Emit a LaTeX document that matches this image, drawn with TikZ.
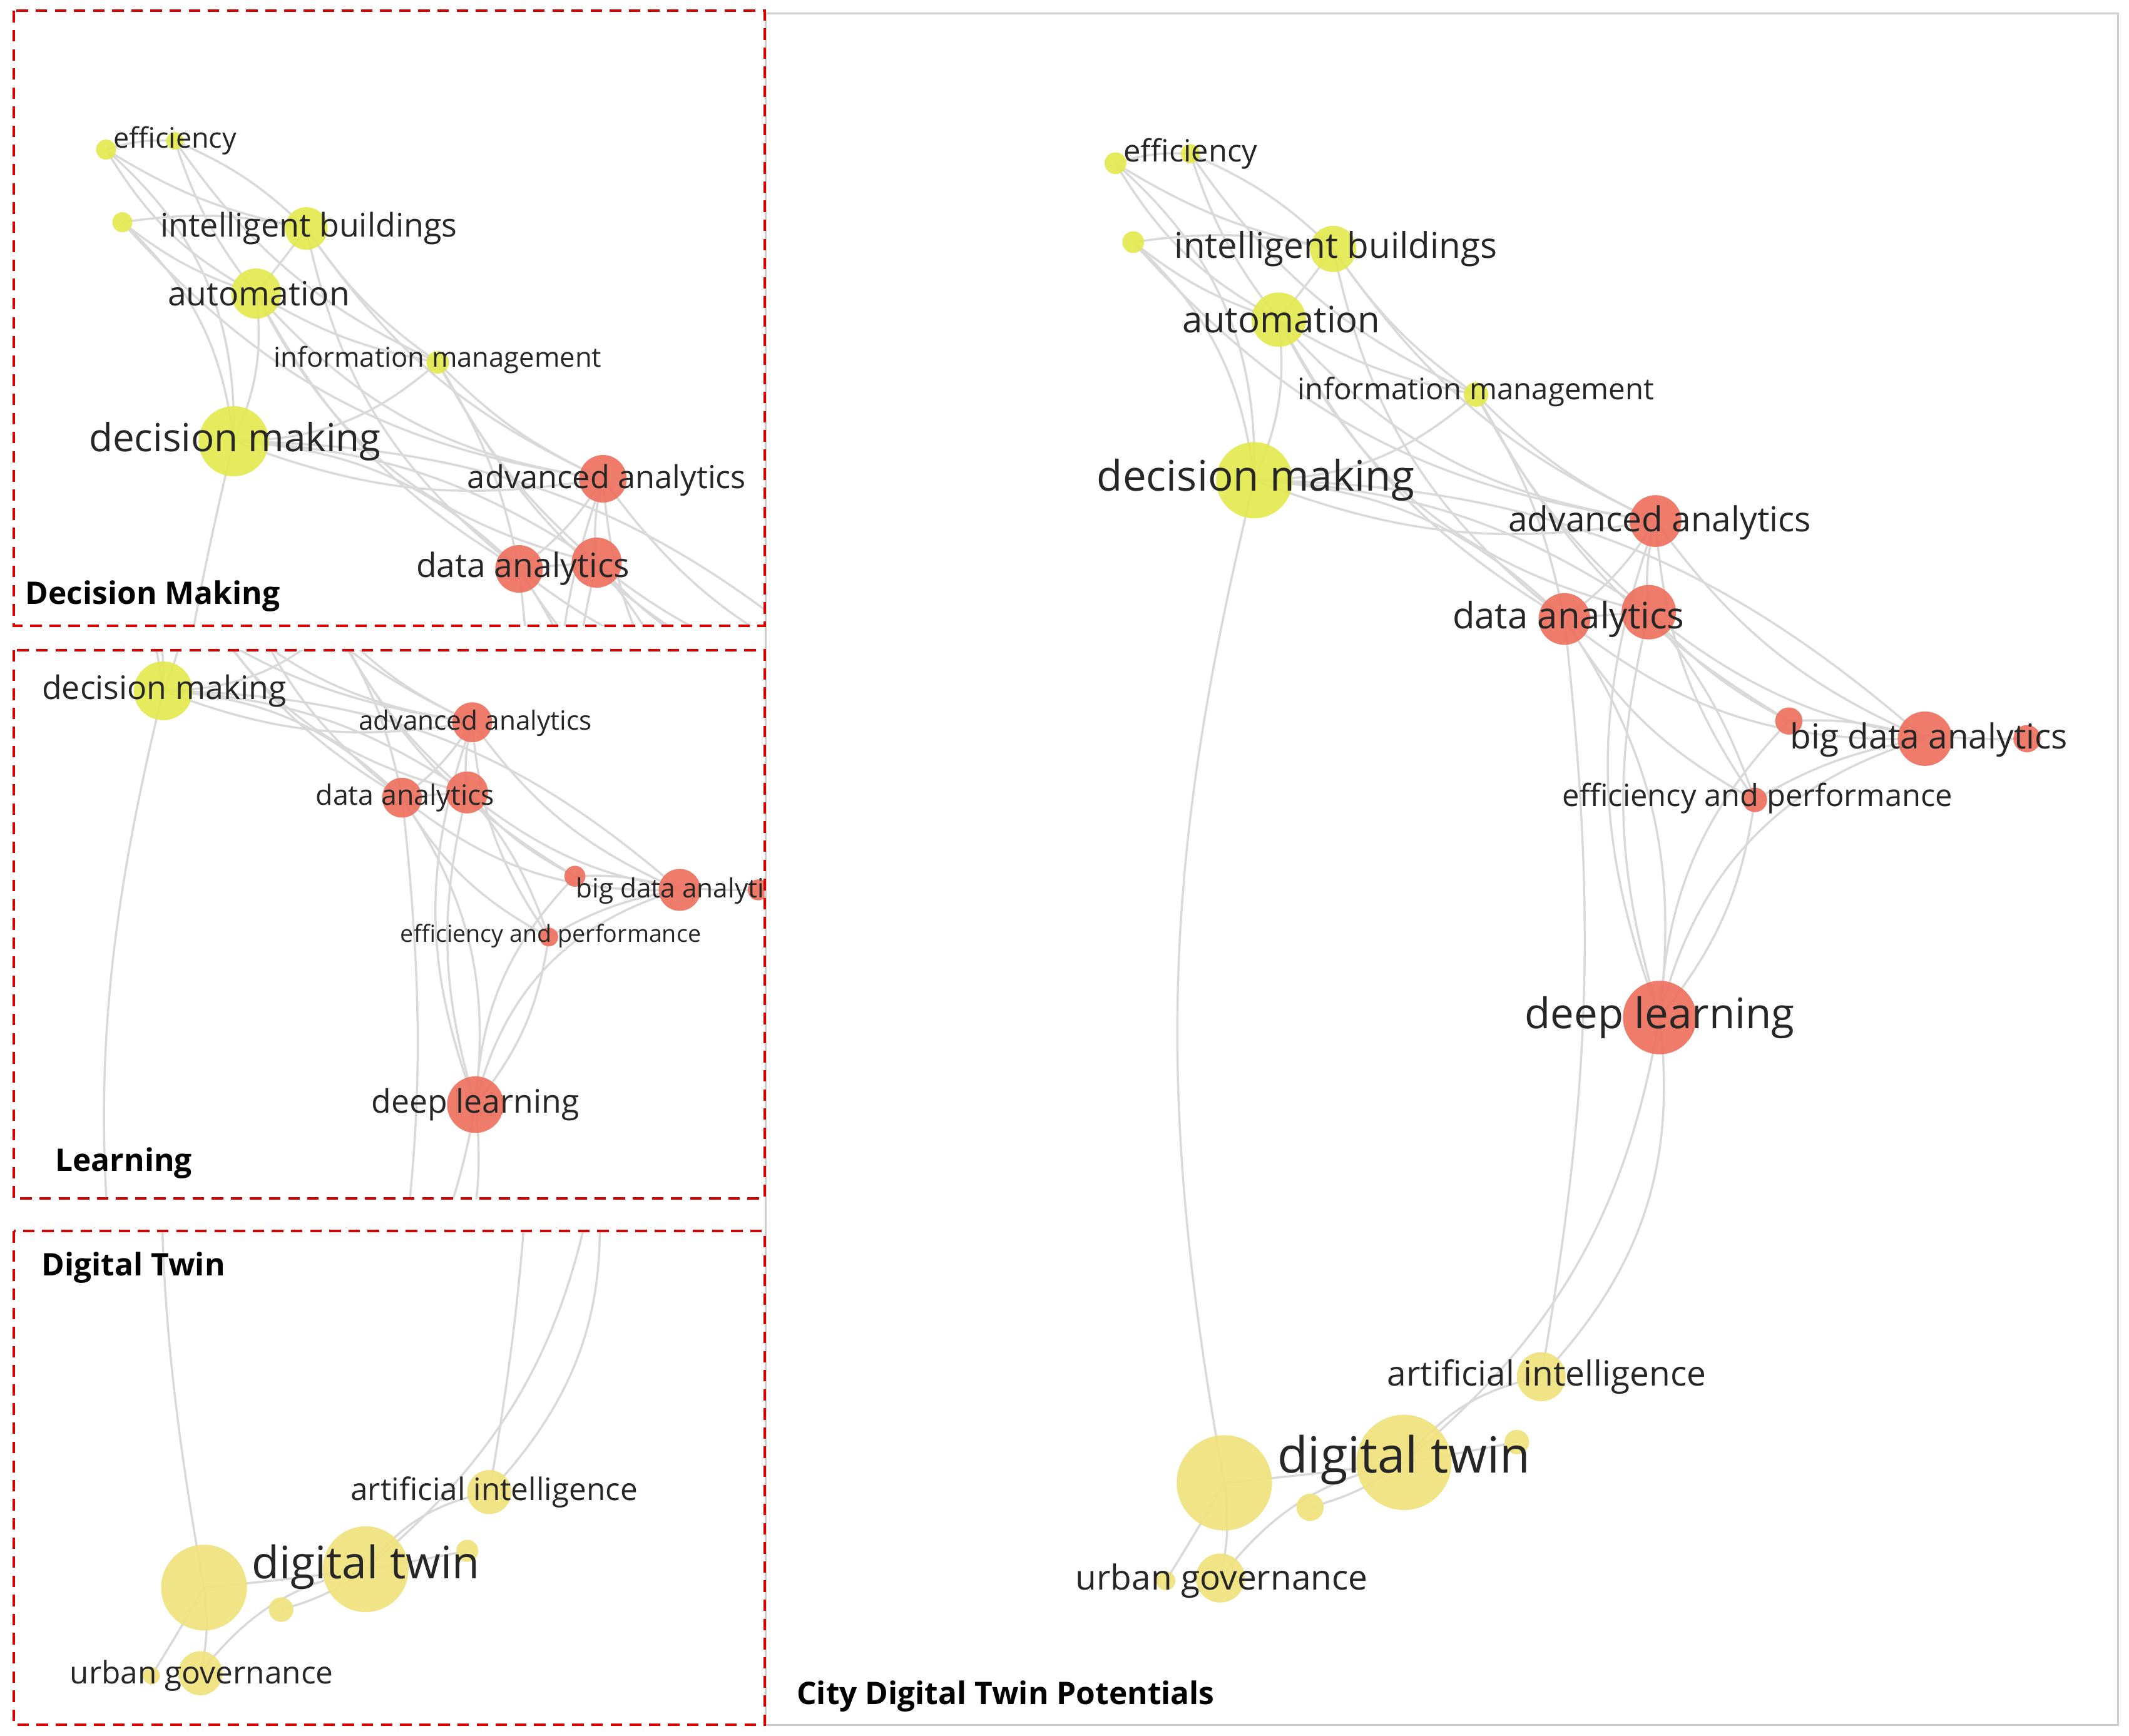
\documentclass[tikz,border=0pt]{standalone}
\usepackage{fontspec}
\setmainfont{Open Sans}
\definecolor{ky}{HTML}{E4E84C}
\definecolor{kt}{HTML}{F0E27A}
\definecolor{kr}{HTML}{EE6E5C}
\tikzset{
 edge/.style={draw=black!15,line width=0.45pt},
 nd/.style={circle,inner sep=0pt,minimum size=#1*0.02cm,fill opacity=0.9},
 ny/.style={nd=#1,fill=ky},
 nt/.style={nd=#1,fill=kt},
 nr/.style={nd=#1,fill=kr},
 lab/.style={inner sep=0pt,text=black!85,font=\fontsize{#1}{#1}\selectfont},
 ttl/.style={inner sep=0pt,anchor=west,font=\fontsize{6.5}{6.5}\selectfont\bfseries},
 box/.style={draw=red!85!black,line width=0.5pt,dash pattern=on 2.4pt off 1.6pt}
}
\newcommand\cdtnet[1]{%
\coordinate (#1ef1) at (820,120); \coordinate (#1ef2) at (875,113);
\coordinate (#1ef3) at (833,178); \coordinate (#1ib) at (980,183);
\coordinate (#1au) at (940,235); \coordinate (#1im) at (1085,290);
\coordinate (#1dm) at (922,353); \coordinate (#1aa) at (1217,383);
\coordinate (#1da1) at (1150,455); \coordinate (#1da2) at (1212,450);
\coordinate (#1bd1) at (1315,530); \coordinate (#1bd2) at (1415,543);
\coordinate (#1bd3) at (1490,543); \coordinate (#1ep) at (1290,588);
\coordinate (#1dl) at (1220,748); \coordinate (#1ai) at (1133,1012);
\coordinate (#1ai2) at (1115,1060); \coordinate (#1dt) at (1032,1075);
\coordinate (#1tw) at (900,1090); \coordinate (#1tw2) at (963,1108);
\coordinate (#1ug) at (897,1160); \coordinate (#1ug2) at (857,1162);
\foreach \a/\b/\c in {ef1/ef2/10, ef1/ib/-10, ef1/au/-15, ef1/dm/25, ef2/ib/10, ef2/au/-10,
 ef2/im/-15, ef3/ib/10, ef3/au/-10, ef3/dm/20, ef3/aa/-20, ib/au/1, ib/im/-10, ib/aa/-15,
 ib/da1/-20, au/dm/15, au/im/-10, au/aa/-20, au/da1/-15, au/da2/-25, dm/im/-20, dm/aa/-15,
 dm/da1/20, dm/da2/15, dm/bd2/20, dm/tw/-12, im/aa/-10, im/da1/10, im/da2/-10, im/bd1/-15,
 aa/da1/10, aa/da2/-10, aa/bd2/-15, aa/ep/-15, aa/dl/-20, da1/da2/1, da1/bd2/-20, da1/ep/-15,
 da1/dl/20, da2/bd1/-10, da2/ep/10, da2/dl/-15, da2/bd3/-20, bd1/bd2/10, bd2/ep/-10,
 bd2/dl/-30, ep/dl/15, bd1/dl/-20, dl/ai/25, dl/dt/20, ai/dt/-20, ai2/dt/1, dt/tw/1,
 dt/tw2/10, tw/ug/10, dt/ug/-20, tw/ug2/1, da1/ai/8}
 {\draw[edge] (#1\a) to[bend left=\c] (#1\b);}
\node[ny=8] (#1nef1) at (#1ef1) {}; \node[ny=7] (#1nef2) at (#1ef2) {};
\node[ny=8] (#1nef3) at (#1ef3) {}; \node[ny=17] (#1nib) at (#1ib) {};
\node[ny=20] (#1nau) at (#1au) {}; \node[ny=9] (#1nim) at (#1im) {};
\node[ny=28] (#1ndm) at (#1dm) {}; \node[nr=19] (#1naa) at (#1aa) {};
\node[nr=19] (#1nda1) at (#1da1) {}; \node[nr=20] (#1nda2) at (#1da2) {};
\node[nr=10] (#1nbd1) at (#1bd1) {}; \node[nr=20] (#1nbd2) at (#1bd2) {};
\node[nr=10] (#1nbd3) at (#1bd3) {}; \node[nr=9] (#1nep) at (#1ep) {};
\node[nr=27] (#1ndl) at (#1dl) {}; \node[nt=18] (#1nai) at (#1ai) {};
\node[nt=9] (#1nai2) at (#1ai2) {}; \node[nt=35] (#1ndt) at (#1dt) {};
\node[nt=35] (#1ntw) at (#1tw) {}; \node[nt=10] (#1ntw2) at (#1tw2) {};
\node[nt=18] (#1nug) at (#1ug) {}; \node[nt=7] (#1nug2) at (#1ug2) {};
\node[lab=6.4] (#1lef) at (875,113) {efficiency};
\node[lab=7.4] (#1lib) at (982,183) {intelligent buildings};
\node[lab=7.6] (#1lau) at (942,235) {automation};
\node[lab=6.2] (#1lim) at (1085,288) {information management};
\node[lab=8.8] (#1ldm) at (923,353) {decision making};
\node[lab=7.2] (#1laa) at (1220,384) {advanced analytics};
\node[lab=7.6] (#1lda) at (1153,455) {data analytics};
\node[lab=7.2] (#1lbd) at (1418,544) {big data analytics};
\node[lab=6.4] (#1lep) at (1292,587) {efficiency and performance};
\node[lab=8.8] (#1ldl) at (1220,748) {deep learning};
\node[lab=7.2] (#1lai) at (1137,1012) {artificial intelligence};
\node[lab=10.4] (#1ldt) at (1032,1073) {digital twin};
\node[lab=7.2] (#1lug) at (898,1162) {urban governance};
}
\begin{document}
\begin{tikzpicture}[x=0.01cm,y=-0.01cm]
\useasboundingbox[fill=white] (0,0) rectangle (1565,1276);
\draw[black!20,line width=0.4pt] (563,10) rectangle (1557,1268);
\cdtnet{r}
\begin{scope}
\clip (10,8) rectangle (562,460);
\begin{scope}[shift={(-676.4,-0.4)},scale=0.92,transform shape]\cdtnet{a}\end{scope}
\end{scope}
\begin{scope}
\clip (10,478) rectangle (562,881);
\begin{scope}[shift={(-590,236)},scale=0.77,transform shape]\cdtnet{b}\end{scope}
\end{scope}
\begin{scope}
\clip (10,905) rectangle (562,1268);
\begin{scope}[shift={(-660,186)},scale=0.9,transform shape]\cdtnet{c}\end{scope}
\end{scope}
\draw[box] (10,8) rectangle (562,460);
\draw[box] (10,478) rectangle (562,881);
\draw[box] (10,905) rectangle (562,1268);
\node[ttl] (t1) at (18,438) {Decision Making};
\node[ttl] (t2) at (40,855) {Learning};
\node[ttl] (t3) at (30,932) {Digital Twin};
\node[ttl] (t4) at (585,1247) {City Digital Twin Potentials};
\end{tikzpicture}
\end{document}
